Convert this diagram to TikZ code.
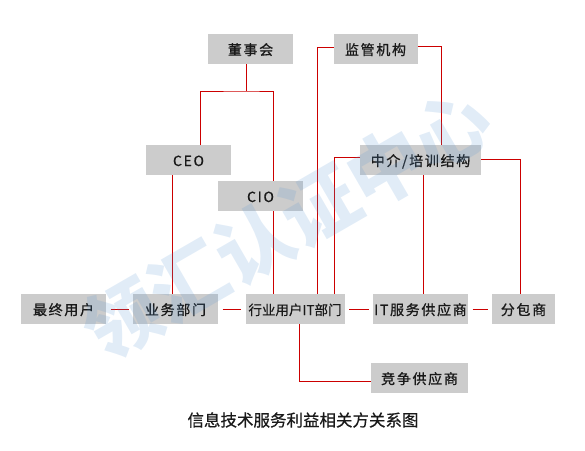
\documentclass[tikz,border=0pt]{standalone}
\usepackage{fontspec}
\setmainfont{Noto Sans CJK SC}
\newfontfamily\spacedfont[LetterSpace=12,FakeBold=0.8]{Noto Sans CJK SC}
\newfontfamily\titlefont[FakeBold=0.6]{Noto Sans CJK SC}
\definecolor{boxgray}{HTML}{CCCCCC}
\definecolor{linkred}{HTML}{CC0000}
\definecolor{markblue}{RGB}{90,150,210}

\begin{document}
\begin{tikzpicture}[
    x=1pt, y=-1pt,
    party/.style={
      fill=boxgray,
      minimum height=30pt,
      inner sep=0pt,
      outer sep=0pt,
      anchor=center,
      text height=12.5pt,
      text depth=.5pt,
      text=black!90,
      font=\spacedfont\fontsize{14}{16}\selectfont
    },
    link/.style={draw=linkred, line width=1pt},
    gap/.style={link, shorten <=4.5pt, shorten >=4.5pt}
  ]
  \useasboundingbox (0,0) rectangle (585,450);

  \node[party, minimum width=85pt] (board) at (250.5,49) {董事会};
  \node[party, minimum width=84pt] (regul) at (375.5,49) {监管机构};
  \node[party, minimum width=85pt] (ceo) at (188.5,160) {CEO};
  \node[party, minimum width=85pt] (cio) at (260.5,196) {CIO};
  \node[party, minimum width=121pt] (agency) at (420.5,160) {中介/培训结构};
  \node[party, minimum width=85pt] (enduser) at (63.5,309) {最终用户};
  \node[party, minimum width=85pt] (bizdept) at (175.5,309) {业务部门};
  \node[party, minimum width=99pt, font=\titlefont\fontsize{13.5}{16}\selectfont] (itdept) at (295,309) {行业用户IT部门};
  \node[party, minimum width=95pt] (itsp) at (420.5,309) {IT服务供应商};
  \node[party, minimum width=63pt] (subc) at (523.5,309) {分包商};
  \node[party, minimum width=97pt] (rival) at (419.5,378) {竞争供应商};
  \node[font=\titlefont\fontsize{16.5}{18}\selectfont, text=black!90] (title) at (303,420) {信息技术服务利益相关方关系图};

  \coordinate (split) at (246,91);
  \coordinate (ceofoot) at ([xshift=-16pt]ceo.south);
  \coordinate (ciofoot) at ([xshift=12.5pt]cio.south);
  \coordinate (agfoot) at ([xshift=3pt]agency.south);

  \draw[link] ([xshift=-4.5pt]board.south) -- (split);
  \draw[link] ([xshift=12pt]ceo.north) |- (split) -| ([xshift=12.5pt]cio.north);
  \draw[link] (ceofoot) -- (ceofoot |- bizdept.north);
  \draw[link] (ciofoot) -- (ciofoot |- itdept.north);
  \draw[link] ([yshift=2pt]regul.west) -| ([xshift=22pt]itdept.north);
  \draw[link] ([yshift=3pt]regul.east) -| ([xshift=21pt]agency.north);
  \draw[link] ([yshift=3pt]agency.west) -| ([xshift=39pt]itdept.north);
  \draw[link] ([yshift=1pt]agency.east) -| ([xshift=-3pt]subc.north);
  \draw[link] (agfoot) -- (agfoot |- itsp.north);
  \draw[link] ([xshift=4pt]itdept.south) |- ([yshift=-3pt]rival.west);
  \draw[gap] (enduser) -- (bizdept);
  \draw[gap] (bizdept) -- (itdept);
  \draw[gap] (itdept) -- (itsp);
  \draw[gap] (itsp) -- (subc);

  \node[rotate=30, text=markblue, text opacity=0.18,
    font=\bfseries\fontsize{76}{76}\selectfont] (mark) at (287,225) {领汇认证中心};
\end{tikzpicture}
\end{document}
